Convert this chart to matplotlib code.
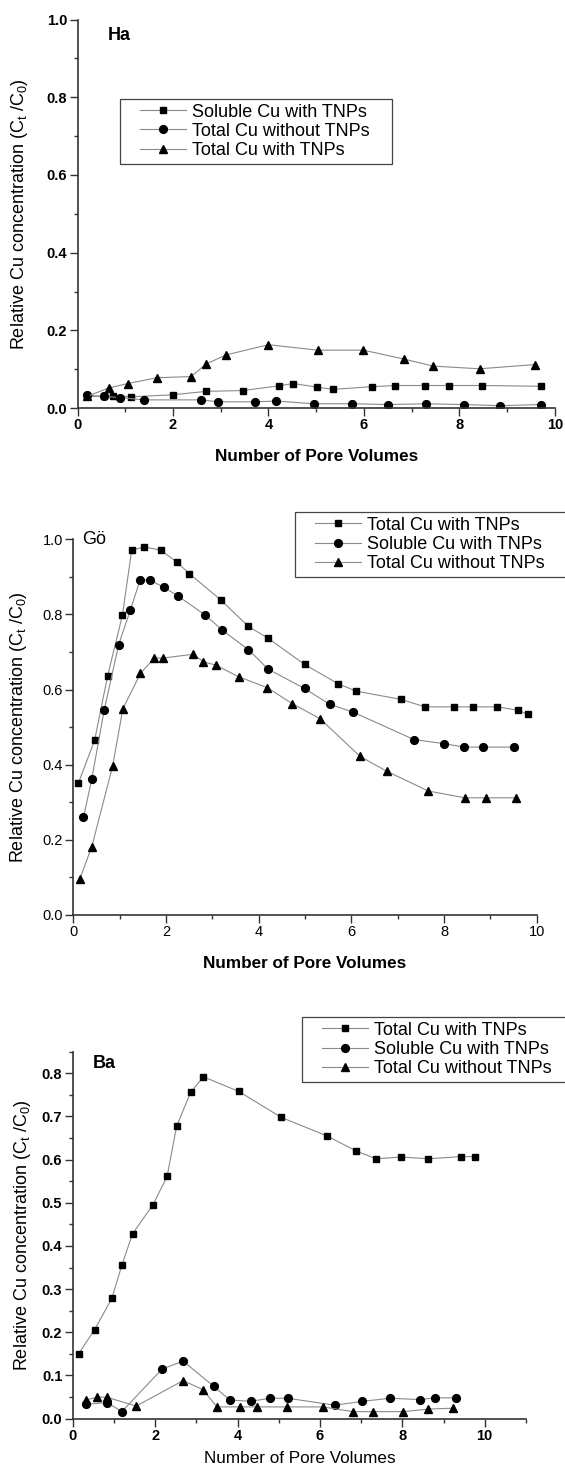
import matplotlib
matplotlib.use("Agg")
import matplotlib.pyplot as plt
from matplotlib.ticker import MultipleLocator
from matplotlib.patches import Rectangle

plt.rcParams['font.family'] = ['Liberation Sans', 'DejaVu Sans']
plt.rcParams['mathtext.fontset'] = 'custom'
plt.rcParams['mathtext.rm'] = 'Liberation Sans'
plt.rcParams['mathtext.it'] = 'Liberation Sans:italic'

# ---- Ha panel ----
ha_sol_x = [0.19, 0.55, 0.74, 1.13, 1.99, 2.70, 3.46, 4.21, 4.52, 5.01, 5.35, 6.17, 6.66, 7.27, 7.79, 8.48, 9.71]
ha_sol_y = [0.030, 0.030, 0.031, 0.029, 0.034, 0.043, 0.045, 0.057, 0.063, 0.054, 0.048, 0.055, 0.058, 0.058, 0.058, 0.058, 0.056]
ha_nowo_x = [0.19, 0.55, 0.89, 1.40, 2.58, 2.95, 3.71, 4.16, 4.95, 5.74, 6.50, 7.30, 8.10, 8.85, 9.71]
ha_nowo_y = [0.033, 0.030, 0.027, 0.021, 0.021, 0.016, 0.016, 0.018, 0.011, 0.011, 0.009, 0.011, 0.009, 0.006, 0.009]
ha_tot_x = [0.20, 0.66, 1.05, 1.66, 2.38, 2.70, 3.12, 4.00, 5.03, 5.99, 6.84, 7.45, 8.42, 9.59]
ha_tot_y = [0.030, 0.052, 0.063, 0.078, 0.081, 0.114, 0.137, 0.163, 0.149, 0.149, 0.126, 0.108, 0.101, 0.112]

# ---- Gö panel ----
go_tot_x = [0.11, 0.46, 0.74, 1.06, 1.26, 1.53, 1.89, 2.23, 2.50, 3.19, 3.78, 4.20, 4.99, 5.71, 6.10, 7.07, 7.59, 8.22, 8.63, 9.15, 9.60, 9.81]
go_tot_y = [0.351, 0.465, 0.636, 0.798, 0.971, 0.980, 0.971, 0.940, 0.909, 0.838, 0.768, 0.737, 0.667, 0.616, 0.596, 0.574, 0.554, 0.554, 0.554, 0.554, 0.545, 0.534]
go_sol_x = [0.22, 0.40, 0.67, 0.98, 1.23, 1.44, 1.66, 1.96, 2.25, 2.84, 3.22, 3.78, 4.21, 4.99, 5.53, 6.04, 7.35, 8.01, 8.43, 8.84, 9.50]
go_sol_y = [0.260, 0.363, 0.547, 0.720, 0.811, 0.891, 0.891, 0.872, 0.850, 0.799, 0.758, 0.706, 0.654, 0.603, 0.561, 0.540, 0.467, 0.456, 0.447, 0.447, 0.447]
go_nowo_x = [0.14, 0.40, 0.85, 1.07, 1.45, 1.75, 1.94, 2.58, 2.81, 3.08, 3.57, 4.19, 4.72, 5.32, 6.19, 6.76, 7.66, 8.45, 8.90, 9.56]
go_nowo_y = [0.096, 0.182, 0.397, 0.549, 0.643, 0.684, 0.684, 0.694, 0.674, 0.665, 0.634, 0.605, 0.563, 0.523, 0.422, 0.383, 0.330, 0.312, 0.312, 0.312]

# ---- Ba panel ----
ba_tot_x = [0.14, 0.53, 0.95, 1.19, 1.45, 1.95, 2.29, 2.52, 2.86, 3.17, 4.03, 5.06, 6.17, 6.88, 7.36, 7.98, 8.63, 9.42, 9.77]
ba_tot_y = [0.150, 0.206, 0.279, 0.355, 0.428, 0.496, 0.561, 0.677, 0.756, 0.792, 0.758, 0.698, 0.655, 0.620, 0.602, 0.606, 0.602, 0.607, 0.607]
ba_sol_x = [0.31, 0.84, 1.19, 2.17, 2.68, 3.42, 3.81, 4.33, 4.78, 5.22, 6.36, 7.03, 7.71, 8.43, 8.79, 9.31]
ba_sol_y = [0.033, 0.037, 0.016, 0.115, 0.133, 0.075, 0.043, 0.040, 0.047, 0.047, 0.031, 0.040, 0.047, 0.044, 0.048, 0.048]
ba_nowo_x = [0.31, 0.60, 0.84, 1.54, 2.68, 3.16, 3.50, 4.05, 4.47, 5.19, 6.07, 6.81, 7.29, 8.02, 8.63, 9.22]
ba_nowo_y = [0.043, 0.050, 0.049, 0.029, 0.088, 0.067, 0.027, 0.027, 0.027, 0.027, 0.027, 0.016, 0.016, 0.016, 0.022, 0.024]

ylabel = 'Relative Cu concentration (C$_\\mathrm{t}$ /C$_\\mathrm{0}$)'
xlabel = 'Number of Pore Volumes'

fig = plt.figure(figsize=(5.65, 14.72), dpi=100)

LINE = '#8a8a8a'
AX = '#333333'
MS = {'s': 5.0, 'o': 5.6, '^': 6.0}


def draw(ax, series, xmax, ymax, ymajor, yminor, tickbold, xlbold, xlsize, xlpad):
    for x, y, m, lab in series:
        ax.plot(x, y, color=LINE, lw=0.8, marker=m, ms=MS[m],
                mfc='black', mec='black', label=lab)
    ax.set_xlim(0, xmax)
    ax.set_ylim(0, ymax)
    ax.xaxis.set_major_locator(MultipleLocator(2))
    ax.xaxis.set_minor_locator(MultipleLocator(1))
    ax.yaxis.set_major_locator(MultipleLocator(ymajor))
    ax.yaxis.set_minor_locator(MultipleLocator(yminor))
    for s in ['top', 'right']:
        ax.spines[s].set_visible(False)
    for s in ['left', 'bottom']:
        ax.spines[s].set_color(AX)
        ax.spines[s].set_linewidth(1.2)
    ax.tick_params(which='major', direction='out', length=5.5, width=1, color=AX, labelsize=10.5, pad=2)
    ax.tick_params(which='minor', direction='out', length=3, width=1, color=AX)
    for t in ax.get_xticklabels() + ax.get_yticklabels():
        t.set_fontweight('bold' if tickbold else 'normal')
    ax.set_ylabel(ylabel, fontsize=13)
    ax.set_xlabel(xlabel, fontsize=xlsize, fontweight='bold' if xlbold else 'normal', labelpad=xlpad)
    ax.patch.set_alpha(0)


legends = []


def add_legend(ax, hx, ty):
    leg = ax.legend(loc='upper left', bbox_to_anchor=(hx, ty), bbox_transform=fig.transFigure,
                    fontsize=13, frameon=False, handlelength=2.55, handletextpad=0.33,
                    borderpad=0, labelspacing=0.12, borderaxespad=0)
    legends.append(leg)


# top panel
ax1 = fig.add_axes([0.1372, 0.7228, 0.845, 0.2639])
draw(ax1, [(ha_sol_x, ha_sol_y, 's', 'Soluble Cu with TNPs'),
           (ha_nowo_x, ha_nowo_y, 'o', 'Total Cu without TNPs'),
           (ha_tot_x, ha_tot_y, '^', 'Total Cu with TNPs')],
     10, 1.0, 0.2, 0.1, True, True, 12.3, 12)
ax1.text(0.63, 0.96, 'Ha', fontsize=13, fontweight='bold', va='center', ha='left')
add_legend(ax1, 0.2478, 0.9296)
ax1.yaxis.set_label_coords(-0.10, 0.5)

# middle panel
ax2 = fig.add_axes([0.1297, 0.3784, 0.8202, 0.2552])
draw(ax2, [(go_tot_x, go_tot_y, 's', 'Total Cu with TNPs'),
           (go_sol_x, go_sol_y, 'o', 'Soluble Cu with TNPs'),
           (go_nowo_x, go_nowo_y, '^', 'Total Cu without TNPs')],
     10, 1.0, 0.2, 0.1, False, True, 12.3, 12)
ax2.text(0.2, 1.0, 'Gö', fontsize=13, va='center', ha='left')
add_legend(ax2, 0.5575, 0.649)
ax2.yaxis.set_label_coords(-0.096, 0.5)

# bottom panel
ax3 = fig.add_axes([0.1288, 0.0363, 0.802, 0.2492])
draw(ax3, [(ba_tot_x, ba_tot_y, 's', 'Total Cu with TNPs'),
           (ba_sol_x, ba_sol_y, 'o', 'Soluble Cu with TNPs'),
           (ba_nowo_x, ba_nowo_y, '^', 'Total Cu without TNPs')],
     11, 0.85, 0.1, 0.05, True, False, 12.3, 6)
ax3.text(0.49, 0.822, 'Ba', fontsize=13, fontweight='bold', va='center', ha='left')
add_legend(ax3, 0.5694, 0.3059)
ax3.yaxis.set_label_coords(-0.088, 0.5)

# legend frames, drawn by hand for the wider side padding
fig.canvas.draw()
W, H = fig.bbox.width, fig.bbox.height
for leg in legends:
    bb = leg.get_window_extent()
    padl, padr, padv = 20, 22, 5
    fig.add_artist(Rectangle(((bb.x0 - padl) / W, (bb.y0 - padv) / H),
                             (bb.width + padl + padr) / W, (bb.height + 2 * padv) / H,
                             transform=fig.transFigure, fill=False, edgecolor='#444444',
                             linewidth=0.9, clip_on=False))

fig.savefig('out.png', dpi=100)
